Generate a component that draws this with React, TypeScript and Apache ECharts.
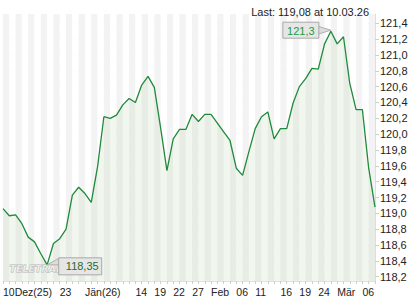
import React, { useEffect, useRef } from "react";
import * as echarts from "echarts";

const dates = [
  "10.12.25", "11.12.25", "12.12.25", "15.12.25", "16.12.25", "17.12.25", "18.12.25", "19.12.25", "22.12.25", "23.12.25", "29.12.25", "30.12.25",
  "02.01.26", "05.01.26", "06.01.26", "07.01.26", "08.01.26", "09.01.26", "12.01.26", "13.01.26", "14.01.26", "15.01.26", "16.01.26", "19.01.26", "20.01.26", "21.01.26", "22.01.26", "23.01.26", "26.01.26", "27.01.26", "28.01.26", "29.01.26", "30.01.26",
  "02.02.26", "03.02.26", "04.02.26", "05.02.26", "06.02.26", "09.02.26", "10.02.26", "11.02.26", "12.02.26", "13.02.26", "16.02.26", "17.02.26", "18.02.26", "19.02.26", "20.02.26", "23.02.26", "24.02.26", "25.02.26", "26.02.26", "27.02.26",
  "02.03.26", "03.03.26", "04.03.26", "05.03.26", "06.03.26", "09.03.26", "10.03.26",
];

const prices = [
  119.06, 118.97, 118.98, 118.87, 118.70, 118.64, 118.49, 118.35, 118.62, 118.68, 118.80, 119.23,
  119.33, 119.25, 119.14, 119.59, 120.22, 120.20, 120.24, 120.37, 120.45, 120.40, 120.62, 120.73, 120.59, 120.08, 119.54, 119.94, 120.06, 120.06, 120.25, 120.16, 120.25,
  120.25, 120.14, 120.03, 119.92, 119.57, 119.48, 119.78, 120.07, 120.22, 120.28, 119.94, 120.07, 120.07, 120.39, 120.60, 120.70, 120.83, 120.82, 121.14, 121.30,
  121.14, 121.23, 120.64, 120.31, 120.31, 119.57, 119.08,
];

const tickIndices = [0, 9, 13, 21, 24, 27, 30, 33, 37, 40, 44, 47, 50, 53, 57];
const tickTexts = ["10Dez(25)", "23", "Jän(26)", "14", "19", "22", "27", "Feb", "06", "11", "16", "19", "24", "Mär", "06"];

const yTicks = [118.2, 118.4, 118.6, 118.8, 119.0, 119.2, 119.4, 119.6, 119.8, 120.0, 120.2, 120.4, 120.6, 120.8, 121.0, 121.2, 121.4];

const highLabel = "121,3";
const lowLabel = "118,35";
const lastText = "Last: 119,08 at 10.03.26";

const FONT = "Liberation Sans, Arial, sans-serif";

export default function App() {
  const ref = useRef<HTMLDivElement>(null);
  useEffect(() => {
    if (!ref.current) return;
    const chart = echarts.init(ref.current, null, { renderer: "svg" });
    const labelMap: Record<number, string> = {};
    tickIndices.forEach((i, k) => (labelMap[i] = tickTexts[k]));
    chart.setOption({
      animation: false,
      backgroundColor: "#ffffff",
      grid: { left: 3, right: 45, top: 14, bottom: 19, containLabel: false },
      title: {
        text: lastText,
        right: 46,
        top: 1,
        textStyle: { fontFamily: FONT, fontSize: 11, fontWeight: "normal", color: "#222" },
      },
      xAxis: {
        type: "category",
        data: dates,
        boundaryGap: false,
        axisLine: { show: true, lineStyle: { color: "#e2e2e2" } },
        axisTick: { show: true, interval: 0, length: 3, lineStyle: { color: "#cfcfcf" } },
        axisLabel: {
          interval: 0,
          align: "left",
          margin: 5,
          fontFamily: FONT,
          fontSize: 10.5,
          color: "#222",
          formatter: (_v: string, idx: number) => labelMap[idx] ?? "",
        },
        splitLine: { show: false },
        splitArea: { show: true, interval: 0, areaStyle: { color: ["#f3f3f3", "#ffffff"] } },
      },
      yAxis: {
        type: "value",
        position: "right",
        min: 118.146,
        max: 121.517,
        axisLine: { show: true, lineStyle: { color: "#dedede" } },
        axisTick: { show: true, length: 4, lineStyle: { color: "#cfcfcf" }, customValues: yTicks },
        axisLabel: {
          customValues: yTicks,
          margin: 5,
          fontFamily: FONT,
          fontSize: 11,
          color: "#222",
          formatter: (v: number) => v.toFixed(1).replace(".", ","),
        },
        splitLine: { show: true, lineStyle: { color: "#e3e3e3", width: 1 } },
      },
      series: [
        {
          type: "line",
          data: prices,
          symbol: "none",
          lineStyle: { color: "#1f8a3b", width: 1.3 },
          areaStyle: { color: "rgba(170,205,160,0.24)", origin: "start" },
          z: 3,
        },
      ],
    });

    const hiIdx = prices.indexOf(Math.max(...prices));
    const loIdx = prices.indexOf(Math.min(...prices));
    const hi = chart.convertToPixel({ xAxisIndex: 0, yAxisIndex: 0 }, [hiIdx, prices[hiIdx]]) as number[];
    const lo = chart.convertToPixel({ xAxisIndex: 0, yAxisIndex: 0 }, [loIdx, prices[loIdx]]) as number[];

    const hbW = 36, hbH = 16;
    const hbX = hi[0] - 12 - hbW, hbY = hi[1] - 9;
    const lbW = 43, lbH = 17;
    const lbX = lo[0] + 11.6, lbY = lo[1] - 7;

    chart.setOption({
      graphic: [
        {
          type: "text",
          left: 9,
          top: 263,
          z: 10,
          style: {
            text: "TELETRADER",
            fontFamily: "DejaVu Sans, sans-serif",
            fontSize: 9.5,
            fontWeight: "bold",
            fontStyle: "italic",
            fill: "rgba(255,255,255,0.6)",
            stroke: "#b8b8b8",
            lineWidth: 1,
          },
        },
        {
          type: "polygon",
          z: 20,
          shape: { points: [[hbX + hbW - 1, hbY + 4], [hi[0], hi[1] - 1], [hbX + hbW - 1, hbY + 12]] },
          style: { fill: "#dcdcdc", stroke: "#b0b0b0", lineWidth: 1 },
        },
        {
          type: "rect",
          z: 21,
          shape: { x: hbX, y: hbY, width: hbW, height: hbH },
          style: { fill: "#e6e6e6", stroke: "#a8a8a8", lineWidth: 1 },
        },
        {
          type: "text",
          z: 22,
          x: hbX + hbW / 2,
          y: hbY + hbH / 2 + 0.5,
          style: {
            text: highLabel,
            fontFamily: FONT,
            fontSize: 11,
            fill: "#1e9a3c",
            align: "center",
            verticalAlign: "middle",
          },
        },
        {
          type: "polygon",
          z: 20,
          shape: { points: [[lbX + 1, lbY], [lo[0], lo[1]], [lbX + 1, lbY + 7]] },
          style: { fill: "#dcdcdc", stroke: "#b0b0b0", lineWidth: 1 },
        },
        {
          type: "rect",
          z: 21,
          shape: { x: lbX, y: lbY, width: lbW, height: lbH },
          style: { fill: "#e6e6e6", stroke: "#a8a8a8", lineWidth: 1 },
        },
        {
          type: "text",
          z: 22,
          x: lbX + lbW / 2 + 2,
          y: lbY + lbH / 2,
          style: {
            text: lowLabel,
            fontFamily: FONT,
            fontSize: 11,
            fill: "#2a6a2a",
            align: "center",
            verticalAlign: "middle",
          },
        },
      ],
    });
    return () => chart.dispose();
  }, []);
  return <div ref={ref} style={{ position: "fixed", left: 0, top: 0, width: 420, height: 300 }} />;
}
